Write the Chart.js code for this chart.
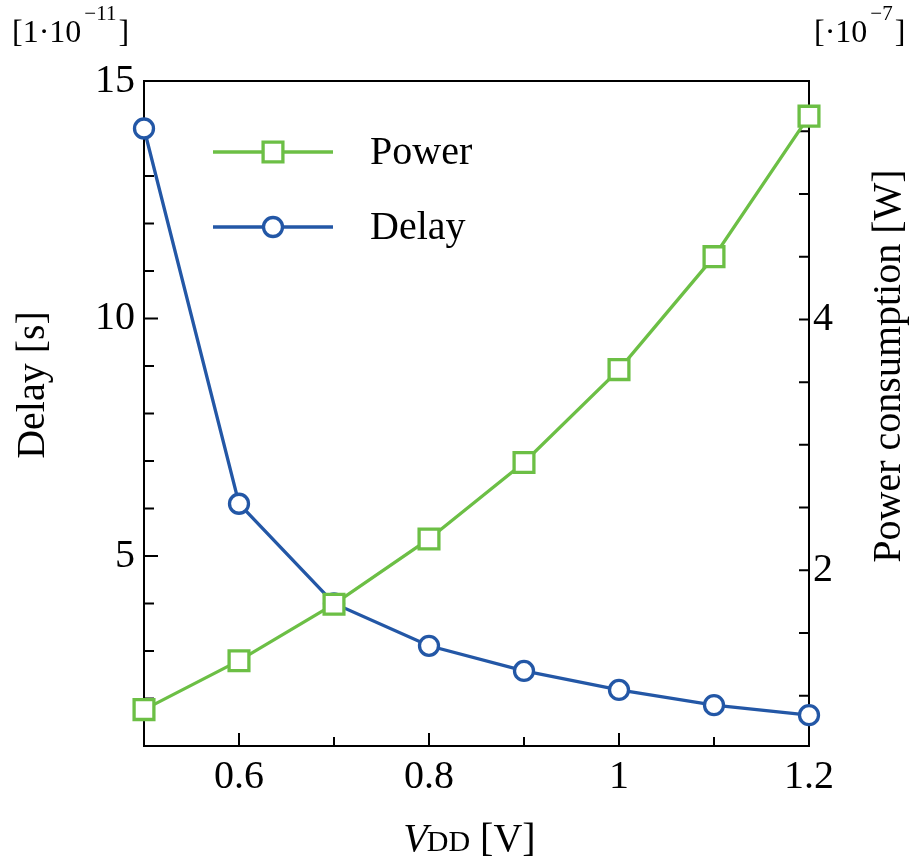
<!DOCTYPE html>
<html>
<head>
<meta charset="utf-8">
<script src="https://cdn.jsdelivr.net/npm/chart.js@4"></script>
<style>
  html, body { margin: 0; padding: 0; background: #fff; }
  canvas { display: block; }
</style>
</head>
<body>
<canvas id="chart" width="912" height="864"></canvas>
<script>
// supply voltage (V)
const vdd = [0.5, 0.6, 0.7, 0.8, 0.9, 1.0, 1.1, 1.2];
// delay, in units of 1e-11 s
const delay = [14.0, 6.1, 4.0, 3.11, 2.58, 2.18, 1.86, 1.65];
// power, in units of 1e-7 W
const power = [0.89, 1.28, 1.73, 2.25, 2.86, 3.60, 4.50, 5.62];

// axis ticks
const xTicks = [0.5, 0.6, 0.7, 0.8, 0.9, 1.0, 1.1, 1.2];
const xLabeled = [0.6, 0.8, 1.0, 1.2];
const xLabels = ['0.6', '0.8', '1', '1.2'];
const delayTicks = [1, 2, 3, 4, 5, 6, 7, 8, 9, 10, 11, 12, 13, 14, 15];
const delayLabeled = [5, 10, 15];
const powerTicks = [1, 1.5, 2, 2.5, 3, 3.5, 4, 4.5, 5, 5.5];
const powerLabeled = [2, 4];

const GREEN = '#6cbf45';
const BLUE = '#2357a6';
const FONT = 'Liberation Serif';

function labelFor(v, labeled, names) {
  const i = labeled.findIndex(l => Math.abs(l - v) < 1e-9);
  if (i < 0) return '';
  return names ? names[i] : String(v);
}

const framePlugin = {
  id: 'frame',
  beforeDatasetsDraw(chart) {
    const ctx = chart.ctx;
    const a = chart.chartArea;
    const sx = chart.scales.x, sy = chart.scales.y, sp = chart.scales.y1;
    ctx.save();
    ctx.strokeStyle = '#000';
    ctx.lineWidth = 2;
    ctx.beginPath();
    ctx.rect(a.left, a.top, a.right - a.left, a.bottom - a.top);
    ctx.stroke();
    ctx.beginPath();
    xTicks.forEach(v => {
      const px = sx.getPixelForValue(v);
      const len = labelFor(v, xLabeled, xLabels) ? 13 : 9;
      ctx.moveTo(px, a.bottom);
      ctx.lineTo(px, a.bottom - len);
    });
    delayTicks.forEach(v => {
      const py = sy.getPixelForValue(v);
      const len = labelFor(v, delayLabeled) ? 14 : 10;
      ctx.moveTo(a.left, py);
      ctx.lineTo(a.left + len, py);
    });
    powerTicks.forEach(v => {
      const py = sp.getPixelForValue(v);
      ctx.moveTo(a.right, py);
      ctx.lineTo(a.right - 10, py);
    });
    ctx.stroke();
    ctx.restore();
  },
  afterDraw(chart) {
    const ctx = chart.ctx;
    ctx.save();
    ctx.fillStyle = '#000';
    ctx.textBaseline = 'alphabetic';

    // legend
    const items = [
      { text: 'Power', color: GREEN, style: 'rect', r: 14, y: 152 },
      { text: 'Delay', color: BLUE, style: 'circle', r: 9.5, y: 227 }
    ];
    items.forEach(it => {
      ctx.strokeStyle = it.color;
      ctx.lineWidth = 3.3;
      ctx.beginPath();
      ctx.moveTo(213, it.y);
      ctx.lineTo(333, it.y);
      ctx.stroke();
      ctx.fillStyle = '#fff';
      Chart.helpers.drawPoint(ctx, { pointStyle: it.style, radius: it.r, rotation: 0, borderWidth: 3.3 }, 273, it.y);
      ctx.fillStyle = '#000';
      ctx.font = '40px "' + FONT + '"';
      ctx.textAlign = 'left';
      ctx.textBaseline = 'middle';
      ctx.fillText(it.text, 370, it.y + 1);
    });

    // axis titles
    ctx.textBaseline = 'middle';
    ctx.textAlign = 'center';
    ctx.font = '40px "' + FONT + '"';
    ctx.save();
    ctx.translate(33, 385);
    ctx.rotate(-Math.PI / 2);
    ctx.fillText('Delay [s]', 0, 0);
    ctx.restore();
    ctx.save();
    ctx.translate(889, 366);
    ctx.rotate(-Math.PI / 2);
    ctx.fillText('Power consumption [W]', 0, 0);
    ctx.restore();

    // x title: V(italic) DD [V]
    ctx.textAlign = 'left';
    ctx.textBaseline = 'alphabetic';
    const fV = 'italic 40px "' + FONT + '"';
    const fD = '30px "' + FONT + '"';
    const fN = '40px "' + FONT + '"';
    ctx.font = fV; const wV = ctx.measureText('V').width;
    ctx.font = fD; const wD = ctx.measureText('DD').width;
    ctx.font = fN; const wB = ctx.measureText(' [V]').width;
    let x0 = 470 - (wV + wD + wB) / 2;
    const base = 851;
    ctx.font = fV; ctx.fillText('V', x0, base); x0 += wV - 1;
    ctx.font = fD; ctx.fillText('DD', x0, base); x0 += wD;
    ctx.font = fN; ctx.fillText(' [V]', x0, base);

    // exponent labels
    function expLabel(pre, sup, x, y) {
      ctx.font = '32px "' + FONT + '"';
      ctx.fillText(pre, x, y);
      x += ctx.measureText(pre).width + 3;
      ctx.font = '21px "' + FONT + '"';
      ctx.fillText(sup, x, y - 22);
      x += ctx.measureText(sup).width + 2;
      ctx.font = '32px "' + FONT + '"';
      ctx.fillText(']', x, y);
    }
    expLabel('[1\u00b710', '\u221211', 12, 42);
    expLabel('[\u00b710', '\u22127', 814, 42);
    ctx.restore();
  }
};

const tickFont = { family: FONT, size: 40 };

new Chart(document.getElementById('chart'), {
  type: 'line',
  data: {
    datasets: [
      {
        label: 'Power',
        data: vdd.map((v, i) => ({ x: v, y: power[i] })),
        yAxisID: 'y1',
        borderColor: GREEN,
        backgroundColor: '#fff',
        borderWidth: 3.3,
        pointStyle: 'rect',
        pointRadius: 14,
        pointBorderWidth: 3.3,
        pointBackgroundColor: '#fff',
        pointBorderColor: GREEN,
        tension: 0,
        clip: false
      },
      {
        label: 'Delay',
        data: vdd.map((v, i) => ({ x: v, y: delay[i] })),
        yAxisID: 'y',
        borderColor: BLUE,
        backgroundColor: '#fff',
        borderWidth: 3.3,
        pointStyle: 'circle',
        pointRadius: 9.5,
        pointBorderWidth: 3.3,
        pointBackgroundColor: '#fff',
        pointBorderColor: BLUE,
        tension: 0,
        clip: false
      }
    ]
  },
  options: {
    responsive: false,
    animation: false,
    events: [],
    layout: { padding: { top: 81, left: 0, right: 0, bottom: 0 } },
    plugins: { legend: { display: false }, tooltip: { enabled: false } },
    scales: {
      x: {
        type: 'linear',
        min: 0.5,
        max: 1.2,
        afterBuildTicks: s => { s.ticks = xTicks.map(v => ({ value: v })); },
        afterFit: s => { s.height = 118; },
        grid: { display: false, drawTicks: false },
        border: { display: false },
        ticks: {
          autoSkip: false,
          maxRotation: 0,
          padding: 7,
          color: '#000',
          font: tickFont,
          callback: v => labelFor(v, xLabeled, xLabels)
        }
      },
      y: {
        type: 'linear',
        position: 'left',
        min: 1,
        max: 15,
        afterBuildTicks: s => { s.ticks = delayTicks.map(v => ({ value: v })); },
        afterFit: s => { s.width = 144; },
        grid: { display: false, drawTicks: false },
        border: { display: false },
        ticks: {
          autoSkip: false,
          padding: 9,
          color: '#000',
          font: tickFont,
          callback: v => labelFor(v, delayLabeled)
        }
      },
      y1: {
        type: 'linear',
        position: 'right',
        min: 0.6,
        max: 5.9,
        afterBuildTicks: s => { s.ticks = powerTicks.map(v => ({ value: v })); },
        afterFit: s => { s.width = 103; },
        grid: { display: false, drawTicks: false },
        border: { display: false },
        ticks: {
          autoSkip: false,
          padding: 4,
          color: '#000',
          font: tickFont,
          callback: v => labelFor(v, powerLabeled)
        }
      }
    }
  },
  plugins: [framePlugin]
});
</script>
</body>
</html>
